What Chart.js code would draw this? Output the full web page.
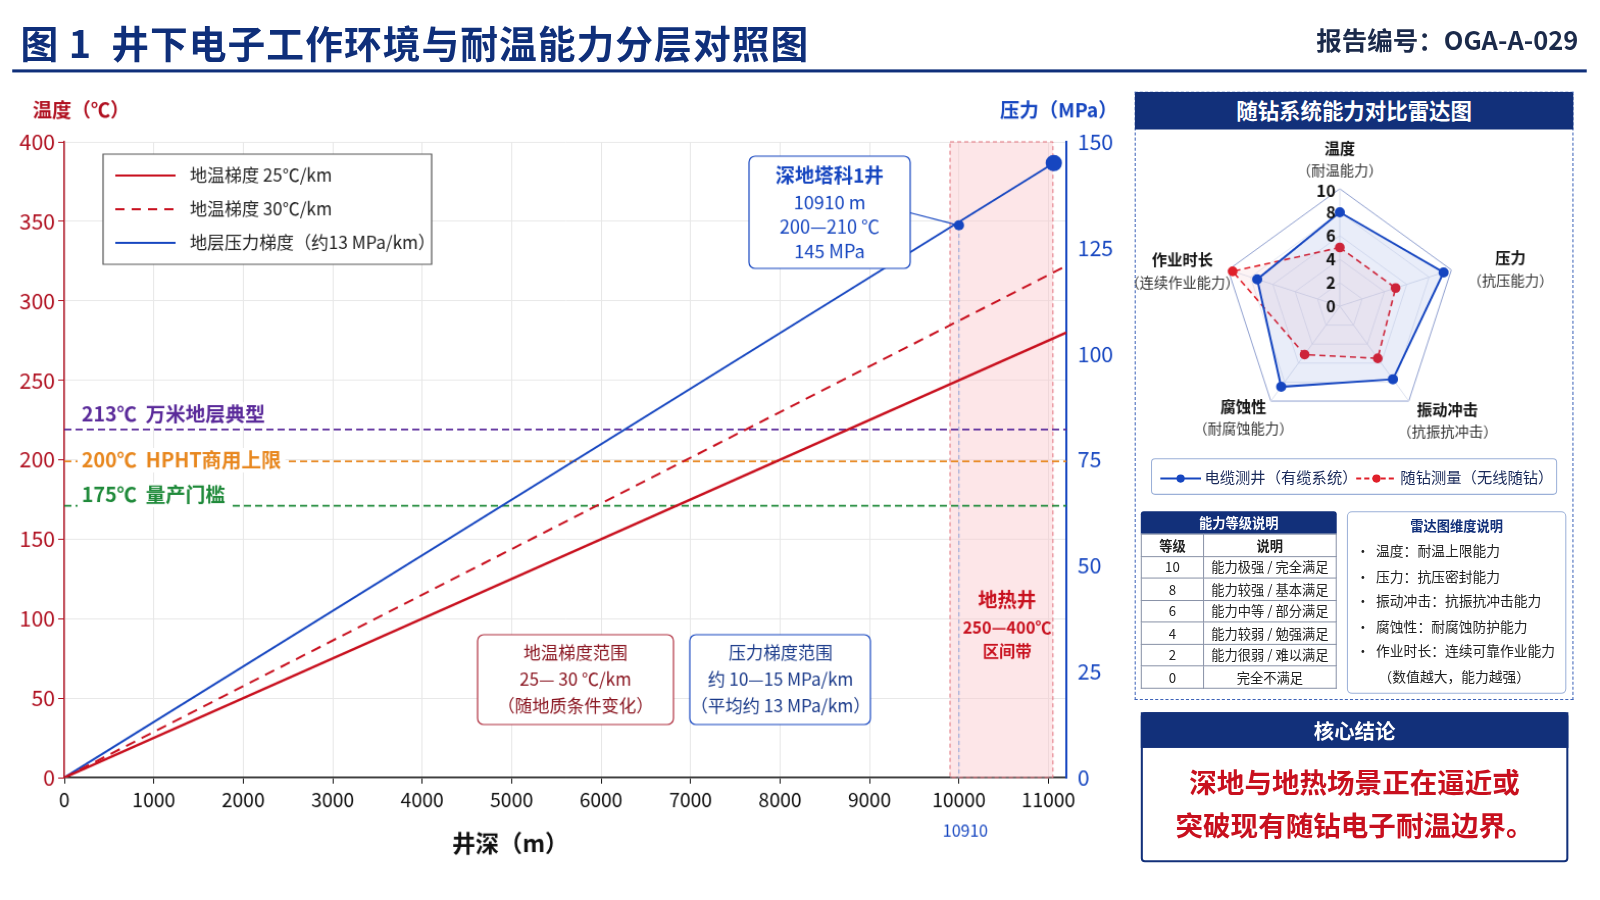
<!DOCTYPE html>
<html><head><meta charset="utf-8">
<script src="https://cdn.jsdelivr.net/npm/chart.js@4.4.0/dist/chart.umd.min.js"></script>
<style>
body{margin:0;width:1600px;height:900px;background:#fff;font-family:"Noto Sans CJK SC","Noto Sans",sans-serif;overflow:hidden}
#wrap{position:relative;width:1568px;height:882px;transform:scale(1.0204);transform-origin:0 0}
.abs{position:absolute}
#title{left:20px;top:14px;font-size:37px;font-weight:700;color:#0f2f7a;letter-spacing:1px}
#rep{left:1290px;top:20px;font-size:25px;font-weight:700;color:#1b2a4a}
#rule{left:12px;top:68px;width:1543px;height:3px;background:#0f2f7a}
#panel{left:1112px;top:90px;width:430px;height:596px;border:1px dashed #3d63b8;box-sizing:border-box}
.hdr{background:#12307a;color:#fff;font-weight:700;text-align:center}
table{border-collapse:collapse;font-size:13px;color:#222}
td{border:1px solid #8a93a8;text-align:center;height:20.5px;padding:0}
</style></head><body><div id="wrap">
<div id="title" class="abs">图 1&nbsp; 井下电子工作环境与耐温能力分层对照图</div>
<div id="rep" class="abs">报告编号：OGA-A-029</div>
<div id="rule" class="abs"></div>
<div class="abs" style="left:0;top:80px;width:1100px;height:780px"><canvas id="main" width="1100" height="780"></canvas></div>
<div id="panel" class="abs"></div>
<div class="abs hdr" style="left:1112px;top:90px;width:430px;height:37px;line-height:37px;font-size:21px;border-radius:3px 3px 0 0">随钻系统能力对比雷达图</div>
<div class="abs" style="left:1112px;top:128px;width:430px;height:320px"><canvas id="radar" width="430" height="320"></canvas></div>
<div class="abs" style="left:1128px;top:449px;width:396px;height:34px;border:1px solid #9bb0d8;border-radius:4px;font-size:15px;color:#1a2a5a;line-height:34px">
<span style="position:absolute;left:8px;top:0">
<svg width="40" height="12" style="vertical-align:middle"><line x1="0" y1="6" x2="40" y2="6" stroke="#1646c0" stroke-width="2"/><circle cx="20" cy="6" r="4" fill="#1646c0"/></svg> 电缆测井（有缆系统）</span>
<span style="position:absolute;left:200px;top:0">
<svg width="40" height="12" style="vertical-align:middle"><line x1="0" y1="6" x2="40" y2="6" stroke="#e0202a" stroke-width="2" stroke-dasharray="5,3"/><circle cx="20" cy="6" r="4" fill="#e0202a"/></svg> 随钻测量（无线随钻）</span>
</div>
<div class="abs" style="left:1118px;top:501px;width:192px">
<div class="hdr" style="height:22px;line-height:22px;font-size:13px;border-radius:3px 3px 0 0">能力等级说明</div>
<table style="width:192px" id="lvl"></table></div>
<div class="abs" style="left:1320px;top:501px;width:215px;height:179px;border:1px solid #9bb0d8;border-radius:5px;box-sizing:border-box;font-size:13.5px;color:#222">
<div style="text-align:center;font-weight:700;color:#12307a;margin-top:3px;font-size:13px">雷达图维度说明</div>
<div id="dims" style="margin-left:8px;line-height:24.5px;margin-top:3px"></div></div>
<div class="abs" style="left:1118px;top:698px;width:419px;height:147px;border:2px solid #12307a;border-radius:4px;box-sizing:border-box"></div>
<div class="abs hdr" style="left:1118px;top:698px;width:419px;height:35px;line-height:35px;font-size:20px">核心结论</div>
<div class="abs" style="left:1118px;top:745px;width:419px;text-align:center;font-size:27px;font-weight:700;color:#c8101e;line-height:42px">深地与地热场景正在逼近或<br>突破现有随钻电子耐温边界。</div>
</div>
<script>
// ---- data ----
const depthPts=[0,11200];
const temp25=[0,280];
const temp30=[0,322];
const pressDepth=[0,11060];
const pressVals=[0,145];
const thresholds=[219,199,171];
const thrLabels=['213℃  万米地层典型','200℃  HPHT商用上限','175℃  量产门槛'];
const thrColors=['#5a2a9a','#e8871e','#1f8a3a'];
const wellDepth=10000, wellPress=130.3;
const endPress=[11060,145];
const geoBand=[9900,11050];
const xTicks=[0,1000,2000,3000,4000,5000,6000,7000,8000,9000,10000,11000];
const pTicks=[0,25,50,75,100,125,150];
const radarAxes=['温度','压力','振动冲击','腐蚀性','作业时长'];
const radarSub=['（耐温能力）','（抗压能力）','（抗振抗冲击）','（耐腐蚀能力）','（连续作业能力）'];
const cable=[8,9.3,7.7,8.5,7.4];
const mwd=[5,5,5.5,5.1,9.6];
const rTicks=[0,2,4,6,8,10];
const levels=[10,8,6,4,2,0];
const levelDesc=['能力极强 / 完全满足','能力较强 / 基本满足','能力中等 / 部分满足','能力较弱 / 勉强满足','能力很弱 / 难以满足','完全不满足'];
const dimDesc=['温度：耐温上限能力','压力：抗压密封能力','振动冲击：抗振抗冲击能力','腐蚀性：耐腐蚀防护能力','作业时长：连续可靠作业能力'];

let h='<tr><td style="font-weight:700;width:60px">等级</td><td style="font-weight:700">说明</td></tr>';
levels.forEach((l,i)=>h+=`<tr><td>${l}</td><td>${levelDesc[i]}</td></tr>`);
document.getElementById('lvl').innerHTML=h;
document.getElementById('dims').innerHTML=dimDesc.map(d=>'•&nbsp; '+d).join('<br>')+'<br><span style="margin-left:22px">（数值越大，能力越强）</span>';

const F='"Noto Sans CJK SC","Noto Sans",sans-serif';
function box(ctx,x,y,w,hh,stroke,r){ctx.save();ctx.fillStyle='#fff';ctx.strokeStyle=stroke;ctx.lineWidth=1.2;ctx.beginPath();ctx.roundRect(x,y,w,hh,r);ctx.fill();ctx.stroke();ctx.restore();}
const deco={id:'deco',
beforeDatasetsDraw(c){const {ctx,scales:{x,y}}=c;const a=c.chartArea;
 ctx.save();const x0=x.getPixelForValue(geoBand[0]),x1=x.getPixelForValue(geoBand[1]);
 ctx.fillStyle='rgba(250,200,205,0.45)';ctx.fillRect(x0,a.top,x1-x0,a.bottom-a.top);
 ctx.strokeStyle='#e0707a';ctx.setLineDash([4,3]);ctx.lineWidth=1;ctx.strokeRect(x0,a.top,x1-x0,a.bottom-a.top);
 const wx=x.getPixelForValue(wellDepth);ctx.strokeStyle='#8aa0d8';ctx.beginPath();ctx.moveTo(wx,a.top+90);ctx.lineTo(wx,a.bottom);ctx.stroke();
 thresholds.forEach((t,i)=>{const py=y.getPixelForValue(t);ctx.strokeStyle=thrColors[i];ctx.lineWidth=1.8;ctx.setLineDash([7,4]);ctx.beginPath();ctx.moveTo(a.left,py);ctx.lineTo(a.right,py);ctx.stroke();});
 ctx.setLineDash([]);ctx.font='bold 19.5px '+F;ctx.textBaseline='middle';
 const ly=[406,451,485];
 thrLabels.forEach((t,i)=>{const w=ctx.measureText(t).width;ctx.fillStyle='#fff';ctx.fillRect(76,ly[i]-80-12,w+8,24);ctx.fillStyle=thrColors[i];ctx.fillText(t,80,ly[i]-80);});
 ctx.restore();},
afterDatasetsDraw(c){const {ctx,scales:{x,y1}}=c;
 ctx.save();
 box(ctx,101,71,322,108,'#555',0);
 const items=[['#c8101e',[],'地温梯度 25℃/km'],['#c8101e',[9,7],'地温梯度 30℃/km'],['#1646c0',[],'地层压力梯度（约13 MPa/km）']];
 ctx.font='17px '+F;ctx.textBaseline='middle';
 items.forEach((it,i)=>{const yy=92+i*33;ctx.strokeStyle=it[0];ctx.lineWidth=2;ctx.setLineDash(it[1]);ctx.beginPath();ctx.moveTo(113,yy);ctx.lineTo(172,yy);ctx.stroke();ctx.setLineDash([]);ctx.fillStyle='#222';ctx.fillText(it[2],186,yy);});
 const mx=x.getPixelForValue(wellDepth),my=y1.getPixelForValue(wellPress);
 ctx.strokeStyle='#1646c0';ctx.lineWidth=1.2;ctx.beginPath();ctx.moveTo(890,128);ctx.lineTo(mx,my);ctx.stroke();
 ctx.fillStyle='#1646c0';ctx.beginPath();ctx.arc(mx,my,5,0,7);ctx.fill();
 ctx.beginPath();ctx.arc(x.getPixelForValue(endPress[0]),y1.getPixelForValue(endPress[1]),8,0,7);ctx.fill();
 box(ctx,734,73,158,110,'#1646c0',6);
 ctx.textAlign='center';ctx.fillStyle='#1646c0';ctx.font='bold 19px '+F;ctx.fillText('深地塔科1井',813,92);
 ctx.font='18px '+F;['10910 m','200—210 ℃','145 MPa'].forEach((t,i)=>ctx.fillText(t,813,118+i*24));
 box(ctx,468,542,192,88,'#b03040',6);box(ctx,676,542,177,88,'#1646c0',6);
 ctx.font='17px '+F;ctx.fillStyle='#8a1520';['地温梯度范围','25— 30 ℃/km','（随地质条件变化）'].forEach((t,i)=>ctx.fillText(t,564,560+i*26));
 ctx.fillStyle='#1a3a8a';['压力梯度范围','约 10—15 MPa/km','（平均约 13 MPa/km）'].forEach((t,i)=>ctx.fillText(t,765,560+i*26));
 ctx.fillStyle='#c8101e';ctx.font='bold 19px '+F;ctx.fillText('地热井',987,508);ctx.font='bold 16px '+F;ctx.fillText('250—400℃',987,535);ctx.fillText('区间带',987,558);
 ctx.fillStyle='#1646c0';ctx.font='16px '+F;ctx.fillText('10910',946,734);
 ctx.fillStyle='#111';ctx.font='bold 23px '+F;ctx.fillText('井深（m）',500,746);
 ctx.font='bold 19px '+F;ctx.fillStyle='#b01020';ctx.textAlign='left';ctx.fillText('温度（℃）',32,28);
 ctx.fillStyle='#1646c0';ctx.fillText('压力（MPa）',980,28);
 ctx.restore();}};
new Chart(document.getElementById('main'),{type:'scatter',
data:{datasets:[
 {data:depthPts.map((d,i)=>({x:d,y:temp25[i]})),showLine:true,borderColor:'#c8101e',borderWidth:2.5,pointRadius:0,yAxisID:'y'},
 {data:depthPts.map((d,i)=>({x:d,y:temp30[i]})),showLine:true,borderColor:'#c8101e',borderWidth:2,borderDash:[10,7],pointRadius:0,yAxisID:'y'},
 {data:pressDepth.map((d,i)=>({x:d,y:pressVals[i]})),showLine:true,borderColor:'#1646c0',borderWidth:2,pointRadius:0,yAxisID:'y1'}]},
options:{responsive:false,animation:false,layout:{padding:{top:59}},plugins:{legend:{display:false},tooltip:{enabled:false}},
scales:{
 x:{type:'linear',min:0,max:11200,afterBuildTicks(s){s.ticks=xTicks.map(v=>({value:v}))},
   afterFit(s){s.height=98},ticks:{color:'#111',font:{size:19,family:F},padding:4,maxRotation:0,callback:v=>String(v)},
   grid:{color:'#e6e6e6',tickColor:'#111',tickLength:6},border:{color:'#111',width:1.5}},
 y:{position:'left',min:0,max:400,ticks:{stepSize:50,color:'#b01020',font:{size:21,family:F}},afterFit(s){s.width=63},
   grid:{color:'#e8e8e8',tickColor:'#b01020',tickLength:6},border:{color:'#b01020',width:1.5}},
 y1:{position:'right',min:0,max:150,afterBuildTicks(s){s.ticks=pTicks.map(v=>({value:v}))},
   ticks:{color:'#1646c0',font:{size:21,family:F}},afterFit(s){s.width=55},
   grid:{display:false,tickColor:'#1646c0',tickLength:8,drawOnChartArea:false},border:{color:'#1646c0',width:2,dash:[8,4]}}}},
plugins:[deco]});

const rlab={id:'rlab',afterDraw(c){const s=c.scales.r,ctx=c.ctx;ctx.save();ctx.textAlign='center';ctx.textBaseline='middle';
 const off=[[0,-30],[58,-2],[38,18],[-27,15],[-45,0]];
 radarAxes.forEach((a,i)=>{const p=s.getPointPositionForValue(i,10);const X=p.x+off[i][0],Y=p.y+off[i][1];
  ctx.fillStyle='#111';ctx.font='bold 15px '+F;ctx.fillText(a,X,Y-10);ctx.fillStyle='#333';ctx.font='14px '+F;ctx.fillText(radarSub[i],X,Y+12);});
 ctx.font='bold 16px '+F;ctx.fillStyle='#111';ctx.textAlign='right';
 rTicks.forEach(v=>{const p=s.getPointPositionForValue(0,v);ctx.fillText(v,p.x-4,p.y+(v==10?2:0));});
 ctx.restore();}};
new Chart(document.getElementById('radar'),{type:'radar',
data:{labels:radarAxes,datasets:[
 {data:cable,borderColor:'#1646c0',backgroundColor:'rgba(40,80,200,0.10)',borderWidth:2,pointRadius:4,pointBackgroundColor:'#1646c0',fill:true},
 {data:mwd,borderColor:'#e0202a',backgroundColor:'rgba(240,180,190,0.15)',borderWidth:1.6,borderDash:[6,4],pointRadius:4,pointBackgroundColor:'#e0202a',fill:true}]},
options:{responsive:false,animation:false,layout:{padding:{top:57,bottom:33,left:86,right:114}},plugins:{legend:{display:false},tooltip:{enabled:false}},
scales:{r:{min:0,max:10,ticks:{display:false,stepSize:2},pointLabels:{display:false},
 grid:{color:c=>c.index===5?'#8f9fcf':'#e4e8f2'},angleLines:{color:'#dde2ee'}}}},plugins:[rlab]});
</script></body></html>
